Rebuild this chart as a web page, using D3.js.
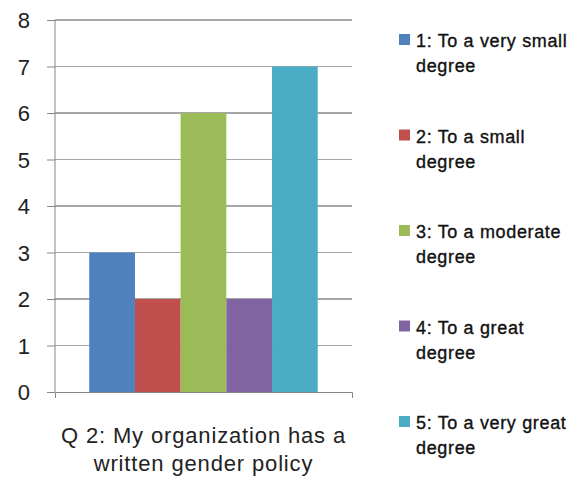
<!DOCTYPE html>
<html><head><meta charset="utf-8">
<script src="https://cdn.jsdelivr.net/npm/d3@7"></script>
<style>body{margin:0;background:#fff}svg{display:block}</style>
</head><body>
<script>
const categories = ["Q 2: My organization has a written gender policy"];
const titleLines = ["Q 2: My organization has a", "written gender policy"];
const seriesNames = ["1: To a very small degree","2: To a small degree","3: To a moderate degree","4: To a great degree","5: To a very great degree"];
const legendLines = [["1: To a very small","degree"],["2: To a small","degree"],["3: To a moderate","degree"],["4: To a great","degree"],["5: To a very great","degree"]];
const values = [3, 2, 6, 2, 7];
const colors = ["#4F81BD","#C0504D","#9BBB59","#8064A2","#4BACC6"];
const yTicks = [0,1,2,3,4,5,6,7,8];

(function () {
const W = 573, H = 480;
const svg = d3.select("body").append("svg").attr("width", W).attr("height", H);
const font = "Liberation Sans, Arial, sans-serif";

const pl = 55, pr = 352, pt = 20, pb = 392;
const y = d3.scaleLinear().domain([0, 8]).range([pb, pt]);
const x0 = d3.scaleBand().domain(categories).range([pl, pr]).paddingInner(0).paddingOuter(0);
const x1 = d3.scaleBand().domain(seriesNames).range([0, x0.bandwidth()]).paddingInner(0).paddingOuter(0.75);

// gridlines
svg.append("g").selectAll("line").data(yTicks.filter(d => d > 0)).join("line")
  .attr("x1", pl).attr("x2", pr).attr("y1", d => y(d)).attr("y2", d => y(d))
  .attr("stroke", "#A6A6A6").attr("stroke-width", 1.2).attr("shape-rendering","crispEdges");

// bars
const g = svg.append("g").attr("transform", `translate(${x0(categories[0])},0)`);
g.selectAll("rect").data(values).join("rect")
  .attr("x", (d, i) => x1(seriesNames[i]))
  .attr("width", x1.bandwidth())
  .attr("y", d => y(d))
  .attr("height", d => y(0) - y(d))
  .attr("fill", (d, i) => colors[i]);

// y axis
const yAxis = d3.axisLeft(y).tickValues(yTicks).tickSize(8).tickPadding(17).tickFormat(d3.format("d"));
const ya = svg.append("g").attr("transform", `translate(${pl},0)`).call(yAxis);
ya.select(".domain").attr("stroke", "#868686").attr("d", `M0,${pt}V${pb}`);
ya.selectAll(".tick line").attr("stroke", "#868686");
ya.selectAll(".tick text").attr("font-family", font).attr("font-size", 22).attr("fill", "#222").attr("dy", "0.36em");

// x axis
const xAxis = d3.axisBottom(x0).tickValues([]).tickSizeOuter(6);
const xa = svg.append("g").attr("transform", `translate(0,${pb})`).call(xAxis);
xa.select(".domain").attr("stroke", "#868686");

// category title
const cx = x0(categories[0]) + x0.bandwidth() / 2;
svg.append("text").attr("font-family", font).attr("font-size", 22).attr("fill", "#222")
  .attr("text-anchor", "middle").attr("letter-spacing", 0.85)
  .selectAll("tspan").data(titleLines).join("tspan")
  .attr("x", cx).attr("y", (d, i) => 443 + i * 28).text(d => d);

// legend
const lg = svg.append("g");
const items = lg.selectAll("g").data(seriesNames).join("g")
  .attr("transform", (d, i) => `translate(399,${40 + i * 95.5})`);
items.append("rect").attr("x", 0).attr("y", -6).attr("width", 11).attr("height", 11)
  .attr("fill", (d, i) => colors[i]);
items.append("text").attr("font-family", font).attr("font-size", 18).attr("fill", "#111")
  .attr("stroke", "#111").attr("stroke-width", 0.35).attr("letter-spacing", 0.65)
  .selectAll("tspan").data((d, i) => legendLines[i]).join("tspan")
  .attr("x", 17).attr("y", (d, j) => 7 + j * 25).text(d => d);
})();
</script>
</body></html>
